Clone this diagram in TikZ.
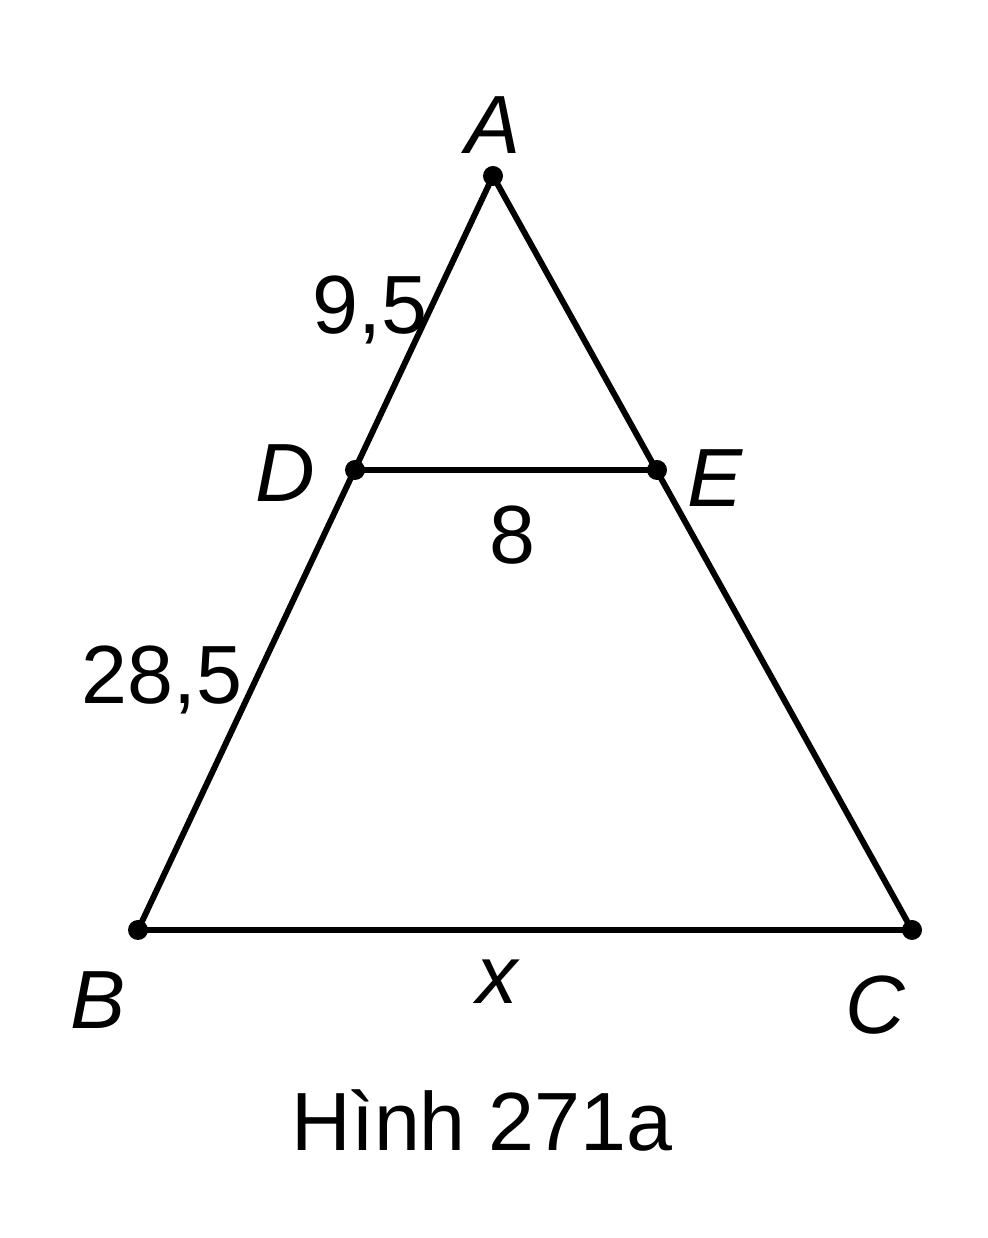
\documentclass[tikz,border=0pt]{standalone}
\usepackage{fontspec}
\setmainfont{Liberation Sans}
\usepackage{tikz}

\begin{document}
\begin{tikzpicture}
\tikzstyle{side}=[line width=1.7pt, line join=round]
\tikzstyle{pt}=[circle, fill=black, inner sep=0pt, minimum size=2mm]
\tikzstyle{lbl}=[inner sep=0pt, font=\fontsize{23.5}{28}\selectfont]
\tikzstyle{vtx}=[lbl, font=\fontsize{23.5}{28}\selectfont\itshape]

  \useasboundingbox (0,0) rectangle (9.88,12.38);

  \coordinate (A) at (4.93,10.62);
  \coordinate (D) at (3.55,7.68);
  \coordinate (E) at (6.57,7.68);
  \coordinate (B) at (1.38,3.08);
  \coordinate (C) at (9.12,3.08);

  \draw[side] (A) -- (B) -- (C) -- cycle;
  \draw[side] (D) -- (E);

  \foreach \p in {A,B,C,D,E}
    \node[pt] at (\p) {};

  \node[vtx] (lA) at (4.93,11.13) {A};
  \node[vtx] (lD) at (2.85,7.65) {D};
  \node[vtx] (lE) at (7.15,7.60) {E};
  \node[vtx] (lB) at (0.98,2.38) {B};
  \node[vtx] (lC) at (8.75,2.33) {C};
  \node[vtx] (lx) at (4.97,2.56) {x};

  \node[lbl] (ad) at (3.70,9.28) {9,5};
  \node[lbl] (db) at (1.62,5.58) {28,5};
  \node[lbl] (de) at (5.12,7.03) {8};
  \node[lbl] (cap) at (4.82,1.18) {Hình 271a};

\end{tikzpicture}
\end{document}
